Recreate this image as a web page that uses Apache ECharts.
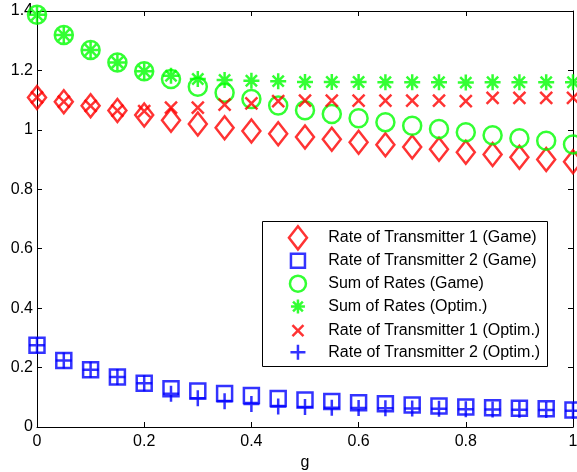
<!DOCTYPE html>
<html>
<head>
<meta charset="utf-8">
<script src="https://cdn.jsdelivr.net/npm/echarts@6/dist/echarts.min.js"></script>
<style>
html,body{margin:0;padding:0;background:#fff;}
#chart{width:577px;height:472px;}
</style>
</head>
<body>
<div id="chart"></div>
<script>
const g = [0, 0.05, 0.1, 0.15, 0.2, 0.25, 0.3, 0.35, 0.4, 0.45, 0.5, 0.55, 0.6, 0.65, 0.7, 0.75, 0.8, 0.85, 0.9, 0.95, 1];
const rate1Game = [1.109, 1.095, 1.081, 1.065, 1.050, 1.032, 1.020, 1.007, 0.996, 0.987, 0.976, 0.968, 0.958, 0.950, 0.942, 0.935, 0.925, 0.917, 0.908, 0.900, 0.893];
const rate2Game = [0.275, 0.224, 0.193, 0.168, 0.147, 0.129, 0.121, 0.113, 0.106, 0.096, 0.091, 0.086, 0.082, 0.078, 0.074, 0.071, 0.067, 0.065, 0.063, 0.061, 0.057];
const sumGame = [1.387, 1.319, 1.269, 1.227, 1.197, 1.171, 1.145, 1.125, 1.104, 1.082, 1.066, 1.053, 1.039, 1.026, 1.014, 1.003, 0.992, 0.982, 0.972, 0.963, 0.951];
const sumOptim = [1.387, 1.319, 1.269, 1.227, 1.197, 1.182, 1.171, 1.168, 1.165, 1.164, 1.161, 1.161, 1.161, 1.160, 1.160, 1.160, 1.159, 1.160, 1.160, 1.160, 1.160];
const rate1Optim = [1.109, 1.095, 1.081, 1.065, 1.063, 1.075, 1.075, 1.085, 1.089, 1.097, 1.098, 1.098, 1.098, 1.098, 1.098, 1.098, 1.097, 1.108, 1.108, 1.108, 1.108];
const rate2Optim = [0.275, 0.224, 0.193, 0.168, 0.147, 0.112, 0.097, 0.087, 0.077, 0.069, 0.067, 0.065, 0.064, 0.063, 0.062, 0.061, 0.060, 0.059, 0.058, 0.057, 0.055];
const seriesNames = ['Rate of Transmitter 1 (Game)', 'Rate of Transmitter 2 (Game)', 'Sum of Rates (Game)', 'Sum of Rates (Optim.)', 'Rate of Transmitter 1 (Optim.)', 'Rate of Transmitter 2 (Optim.)'];
const xTickLabels = ['0', '0.2', '0.4', '0.6', '0.8', '1'];
const yTickLabels = ['0', '0.2', '0.4', '0.6', '0.8', '1', '1.2', '1.4'];
const xName = 'g';

const FONT = "'Liberation Sans', Arial, Helvetica, sans-serif";
const RED = '#ff0000', BLUE = '#0000ff', GREEN = '#00ff00';
const pair = arr => g.map((x, i) => [x, arr[i]]);

const XPATH = 'path://M0 0L10 10M10 0L0 10';
const PLUSPATH = 'path://M5 0L5 10M0 5L10 5';
const STARPATH = 'path://M5 0L5 10M0 5L10 5M1.5 1.5L8.5 8.5M8.5 1.5L1.5 8.5';

function sc(name, data, symbol, size, color, bw) {
  return {
    name: name, type: 'scatter', data: pair(data),
    symbol: symbol, symbolSize: size,
    itemStyle: { color: 'rgba(0,0,0,0)', borderColor: color, borderWidth: bw },
    emphasis: { disabled: true },
    animation: false
  };
}

const axisCommon = {
  axisLine: { show: true, onZero: false, lineStyle: { color: '#000', width: 1 } },
  axisTick: { show: true, inside: true, length: 5, lineStyle: { color: '#000' } },
  splitLine: { show: false }
};

// legend layout: box frame, icon column centre, text column start, row centres
const LBOX = { x: 262.5, y: 221.5, w: 285, h: 145 };
const ICON_CX = 296.7, TEXT_X = 327, ROW0 = 236.6, ROWSTEP = 22.9;
const legendIcons = [
  { w: 18, h: 23, color: RED },
  { w: 14, h: 14, color: BLUE },
  { w: 16, h: 16, color: GREEN },
  { w: 14, h: 14, color: GREEN },
  { w: 11, h: 11, color: RED },
  { w: 15, h: 15, color: BLUE }
];
const legends = seriesNames.map((name, i) => {
  const ic = legendIcons[i];
  return {
    orient: 'vertical',
    left: ICON_CX - ic.w / 2,
    top: ROW0 + i * ROWSTEP - ic.h / 2,
    padding: 0,
    itemWidth: ic.w, itemHeight: ic.h, itemGap: 0,
    itemStyle: { borderWidth: 2.5, borderColor: ic.color, color: 'rgba(0,0,0,0)' },
    textStyle: { color: '#000', fontSize: 16, fontFamily: FONT, lineHeight: 6,
      padding: [0, 0, 0, TEXT_X - 5 - (ICON_CX + ic.w / 2)] },
    data: [name],
    selectedMode: false,
    z: 10
  };
});

const chart = echarts.init(document.getElementById('chart'), null, { renderer: 'canvas' });
chart.setOption({
  backgroundColor: '#fff',
  animation: false,
  textStyle: { fontFamily: FONT },
  grid: { left: 37, right: 4, top: 11, bottom: 45, containLabel: false, outerBoundsMode: 'none' },
  xAxis: [
    Object.assign({
      type: 'value', min: 0, max: 1, interval: 0.2, position: 'bottom',
      name: xName, nameLocation: 'middle', nameGap: 27,
      nameTextStyle: { color: '#000', fontSize: 16, fontFamily: FONT },
      axisLabel: { color: '#000', fontSize: 16, fontFamily: FONT, margin: 7,
        formatter: (v) => xTickLabels[Math.round(v / 0.2)] }
    }, axisCommon),
    Object.assign({
      type: 'value', min: 0, max: 1, interval: 0.2, position: 'top',
      axisLabel: { show: false }
    }, axisCommon)
  ],
  yAxis: [
    Object.assign({
      type: 'value', min: 0, max: 1.4, interval: 0.2, position: 'left',
      axisLabel: { color: '#000', fontSize: 16, fontFamily: FONT, margin: 4,
        formatter: (v) => yTickLabels[Math.round(v / 0.2)] }
    }, axisCommon),
    Object.assign({
      type: 'value', min: 0, max: 1.4, interval: 0.2, position: 'right',
      axisLabel: { show: false }
    }, axisCommon)
  ],
  graphic: [{
    type: 'rect', z: 5,
    shape: { x: LBOX.x, y: LBOX.y, width: LBOX.w, height: LBOX.h },
    style: { fill: '#fff', stroke: '#000', lineWidth: 1 }
  }],
  legend: legends,
  series: [
    sc(seriesNames[0], rate1Game, 'diamond', [18, 23], RED, 2.5),
    sc(seriesNames[1], rate2Game, 'rect', [15, 15], BLUE, 2.5),
    sc(seriesNames[2], sumGame, 'circle', 18, GREEN, 2.5),
    sc(seriesNames[3], sumOptim, STARPATH, 16, GREEN, 2.5),
    sc(seriesNames[4], rate1Optim, XPATH, 12, RED, 2.5),
    sc(seriesNames[5], rate2Optim, PLUSPATH, 16, BLUE, 2.5)
  ]
});
</script>
</body>
</html>
